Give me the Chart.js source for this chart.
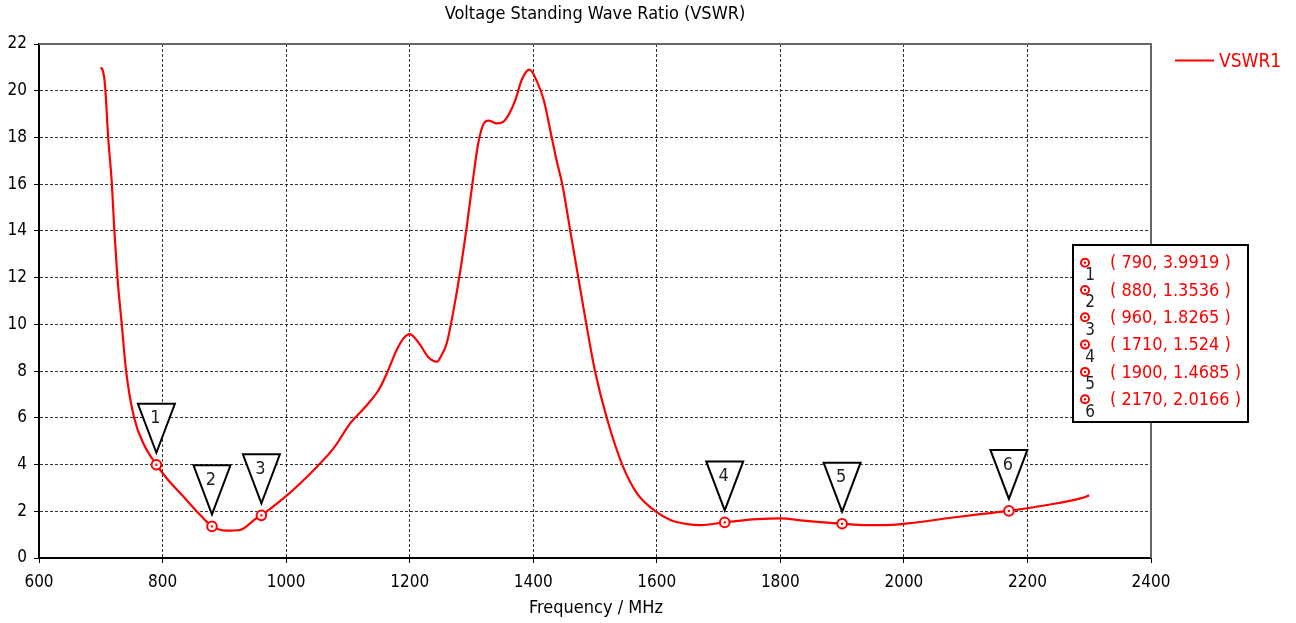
<!DOCTYPE html>
<html>
<head>
<meta charset="utf-8">
<script src="https://cdn.jsdelivr.net/npm/chart.js@4.4.1/dist/chart.umd.min.js"></script>
<style>
  html, body { margin: 0; padding: 0; background: #ffffff; }
  #wrap { width: 1296px; height: 623px; position: relative; }
</style>
</head>
<body>
<div id="wrap"><canvas id="c" width="1296" height="623"></canvas></div>
<script>
// ---- data ----
const freqMHz = [700, 704, 707, 712, 718, 722, 727, 734, 741, 754, 769, 790, 807, 834, 861, 880, 904, 925, 952, 960,
  996, 1023, 1050, 1077, 1104, 1131, 1150, 1163, 1179, 1190, 1200, 1217, 1230, 1244, 1252, 1260, 1271, 1282, 1293, 1303, 1311,
  1320, 1328, 1341, 1352, 1360, 1371, 1382, 1394, 1406, 1417, 1430, 1438, 1447, 1460, 1473, 1486, 1500, 1519, 1544, 1568, 1600,
  1622, 1650, 1670, 1710, 1762, 1800, 1838, 1900, 1940, 1973, 2016, 2070, 2124, 2170, 2232, 2286, 2300];
const vswr1 = [21.0, 20.8, 20.2, 18.0, 16.0, 14.0, 12.0, 10.0, 8.0, 6.0, 4.9, 3.9919, 3.4, 2.62, 1.84, 1.3536, 1.17, 1.2, 1.7, 1.8265,
  2.56, 3.2, 3.91, 4.7, 5.77, 6.55, 7.2, 7.9, 8.9, 9.4, 9.58, 9.12, 8.6, 8.4, 8.7, 9.19, 10.6, 12.3, 14.3, 16.3, 17.75,
  18.6, 18.72, 18.6, 18.68, 18.96, 19.6, 20.5, 20.9, 20.4, 19.6, 18.0, 17.0, 16.0, 14.0, 12.0, 10.0, 8.0, 6.0, 4.0, 2.77, 1.96,
  1.63, 1.45, 1.41, 1.524, 1.66, 1.70, 1.60, 1.4685, 1.41, 1.41, 1.51, 1.70, 1.88, 2.0166, 2.27, 2.55, 2.68];
const markerFreq = [790, 880, 960, 1710, 1900, 2170];
const markerVswr = [3.9919, 1.3536, 1.8265, 1.524, 1.4685, 2.0166];
const markerLabels = ['1', '2', '3', '4', '5', '6'];
const xTicks = [600, 800, 1000, 1200, 1400, 1600, 1800, 2000, 2200, 2400];
const yTicks = [0, 2, 4, 6, 8, 10, 12, 14, 16, 18, 20, 22];
const titleText = 'Voltage Standing Wave Ratio (VSWR)';
const xTitle = 'Frequency / MHz';
const seriesName = 'VSWR1';

const FONT = '"DejaVu Sans Condensed", "DejaVu Sans", sans-serif';
const RED = '#ff0000';

const curve = freqMHz.map((f, i) => ({ x: f, y: vswr1[i] }));
const marks = markerFreq.map((f, i) => ({ x: f, y: markerVswr[i] }));

const decor = {
  id: 'decor',
  afterDraw(chart) {
    const ctx = chart.ctx;
    const a = chart.chartArea;
    const xs = chart.scales.x, ys = chart.scales.y;
    ctx.save();
    // top and right frame
    ctx.strokeStyle = '#666666';
    ctx.lineWidth = 2;
    ctx.setLineDash([]);
    ctx.beginPath();
    ctx.moveTo(a.left, a.top); ctx.lineTo(a.right, a.top); ctx.lineTo(a.right, a.bottom);
    ctx.stroke();
    // title
    ctx.fillStyle = '#000';
    ctx.font = '18px ' + FONT;
    ctx.textAlign = 'center'; ctx.textBaseline = 'middle';
    ctx.fillText(titleText, 595, 14);
    ctx.fillText(xTitle, 596, 608);
    // legend
    ctx.strokeStyle = RED; ctx.lineWidth = 2;
    ctx.beginPath(); ctx.moveTo(1175, 60.5); ctx.lineTo(1214, 60.5); ctx.stroke();
    ctx.fillStyle = RED; ctx.textAlign = 'left';
    ctx.font = '19px ' + FONT;
    ctx.fillText(seriesName, 1219, 62);
    // markers: centre dots and triangles
    markerFreq.forEach((f, i) => {
      const px = xs.getPixelForValue(f), py = ys.getPixelForValue(markerVswr[i]);
      ctx.fillStyle = RED;
      ctx.beginPath(); ctx.arc(px, py, 1.2, 0, Math.PI * 2); ctx.fill();
      const top = py - 61, tip = py - 12, hw = 18.5;
      ctx.fillStyle = '#fff'; ctx.strokeStyle = '#000'; ctx.lineWidth = 2;
      ctx.beginPath(); ctx.moveTo(px - hw, top); ctx.lineTo(px + hw, top); ctx.lineTo(px, tip); ctx.closePath();
      ctx.fill(); ctx.stroke();
      ctx.fillStyle = '#222'; ctx.font = '18px ' + FONT; ctx.textAlign = 'center'; ctx.textBaseline = 'middle';
      ctx.fillText(markerLabels[i], px - 1, top + 15);
    });
    // marker table
    ctx.fillStyle = '#fff'; ctx.strokeStyle = '#000'; ctx.lineWidth = 2;
    ctx.fillRect(1073, 245, 175, 177); ctx.strokeRect(1073, 245, 175, 177);
    markerFreq.forEach((f, i) => {
      const y = 262.7 + 27.3 * i;
      ctx.strokeStyle = RED; ctx.lineWidth = 2;
      ctx.beginPath(); ctx.arc(1085, y, 4, 0, Math.PI * 2); ctx.stroke();
      ctx.fillStyle = RED; ctx.beginPath(); ctx.arc(1085, y, 1.2, 0, Math.PI * 2); ctx.fill();
      ctx.font = '18px ' + FONT; ctx.textAlign = 'left'; ctx.textBaseline = 'middle';
      ctx.fillText('( ' + f + ', ' + markerVswr[i] + ' )', 1110, y + 1);
      ctx.fillStyle = '#222'; ctx.font = '17px ' + FONT; ctx.textAlign = 'center';
      ctx.fillText(markerLabels[i], 1090, y + 13);
    });
    ctx.restore();
  }
};

new Chart(document.getElementById('c'), {
  type: 'scatter',
  data: {
    datasets: [
      { label: seriesName, data: curve, showLine: true, borderColor: RED, borderWidth: 2.2, pointRadius: 0,
        cubicInterpolationMode: 'monotone', fill: false, order: 2 },
      { label: 'markers', data: marks, showLine: false, pointRadius: 4.8, pointBorderWidth: 2,
        pointBorderColor: RED, pointBackgroundColor: '#fff', order: 1 }
    ]
  },
  options: {
    responsive: false,
    animation: false,
    events: [],
    layout: { padding: { top: 44, right: 145, left: 0, bottom: 0 } },
    plugins: { legend: { display: false }, title: { display: false }, tooltip: { enabled: false } },
    scales: {
      x: {
        type: 'linear', min: 600, max: 2400,
        afterBuildTicks: s => { s.ticks = xTicks.map(v => ({ value: v })); },
        afterFit: s => { s.height = 65; },
        ticks: { color: '#000', font: { family: FONT, size: 17 }, padding: 9, maxRotation: 0, callback: v => String(v) },
        grid: { color: '#333', lineWidth: 1, tickLength: 5, tickColor: '#000', tickBorderDash: [] },
        border: { display: true, color: '#000', width: 2, dash: [3, 2] }
      },
      y: {
        type: 'linear', min: 0, max: 22,
        afterBuildTicks: s => { s.ticks = yTicks.map(v => ({ value: v })); },
        afterFit: s => { s.width = 39; },
        ticks: { color: '#000', font: { family: FONT, size: 17 }, padding: 7, callback: v => String(v) },
        grid: { color: '#333', lineWidth: 1, tickLength: 5, tickColor: '#000', tickBorderDash: [] },
        border: { display: true, color: '#000', width: 2, dash: [3, 2] }
      }
    }
  },
  plugins: [decor]
});
</script>
</body>
</html>
